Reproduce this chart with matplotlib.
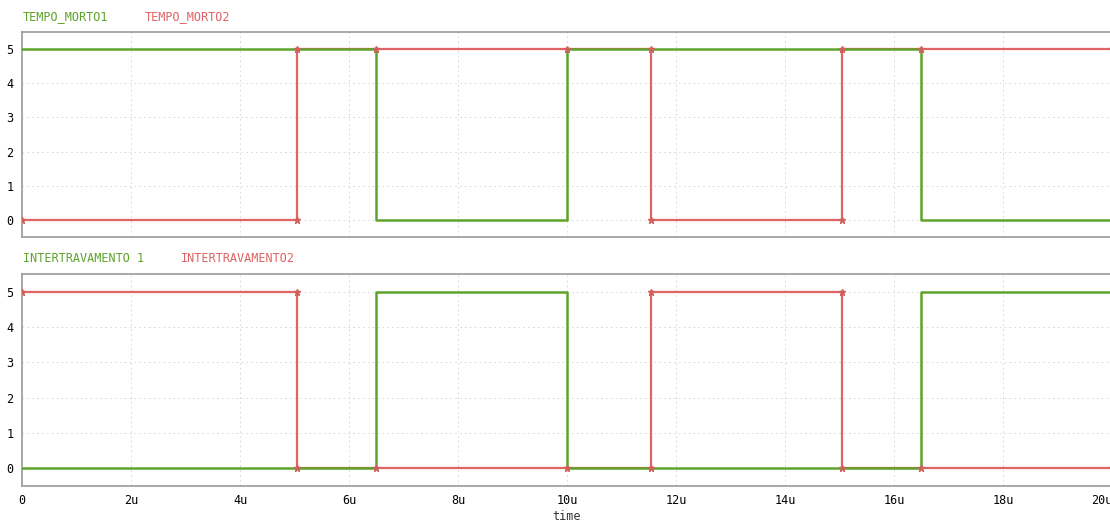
import numpy as np
import matplotlib
matplotlib.use("Agg")
import matplotlib.pyplot as plt

# time in microseconds
green_t = [0, 6.5, 6.5, 10, 10, 16.5, 16.5, 20]
tempo_morto1 = [5, 5, 0, 0, 5, 5, 0, 0]
intertravamento1 = [0, 0, 5, 5, 0, 0, 5, 5]

red_t = [0, 5.05, 5.05, 6.5, 10, 11.55, 11.55, 15.05, 15.05, 16.5, 20]
tempo_morto2 = [0, 0, 5, 5, 5, 5, 0, 0, 5, 5, 5]
intertravamento2 = [5, 5, 0, 0, 0, 0, 5, 5, 0, 0, 0]

x_ticks = [0, 2, 4, 6, 8, 10, 12, 14, 16, 18, 20]
x_labels = ["0"] + [f"{t}u" for t in x_ticks[1:]]
y_ticks = [0, 1, 2, 3, 4, 5]

GREEN = "#5ea32c"
RED = "#e06464"
MARK = "#d0605a"
mono = "DejaVu Sans Mono"

fig = plt.figure(figsize=(11.1, 5.24), dpi=100)
W, H = 1110, 524
ax1 = fig.add_axes([22 / W, 1 - 237 / H, 1090 / W, 205 / H])
ax2 = fig.add_axes([22 / W, 1 - 486 / H, 1090 / W, 212 / H])


def style(ax, show_x):
    ax.set_xlim(0, 20)
    ax.set_ylim(-0.5, 5.5)
    ax.set_xticks(x_ticks)
    ax.set_yticks(y_ticks)
    ax.grid(True, color="#dddddd", linestyle=(0, (2, 3)), linewidth=0.7)
    ax.set_axisbelow(True)
    for s in ["left", "bottom", "top"]:
        ax.spines[s].set_color("#999999")
        ax.spines[s].set_linewidth(1.2)
    ax.spines["right"].set_visible(False)
    ax.tick_params(length=0, labelsize=8.5, pad=6)
    for lab in ax.get_yticklabels():
        lab.set_fontfamily(mono)
    if show_x:
        ax.set_xticklabels(x_labels, fontfamily=mono)
        # last label pushed inside the figure like the original
        ax.get_xticklabels()[-1].set_horizontalalignment("right")
    else:
        ax.set_xticklabels([])


def draw(ax, gv, rv):
    ax.plot(red_t, rv, color=RED, lw=1.6, zorder=2)
    ax.plot(green_t, gv, color=GREEN, lw=1.8, zorder=3)
    ax.plot(red_t, rv, ls="none", marker="*", ms=5, color=MARK, zorder=4)


draw(ax1, tempo_morto1, tempo_morto2)
draw(ax2, intertravamento1, intertravamento2)
style(ax1, False)
style(ax2, True)

fig.text(23 / W, 1 - 17 / H, "TEMPO_MORTO1", color=GREEN, fontsize=8.5,
         fontfamily=mono, va="center")
fig.text(145 / W, 1 - 17 / H, "TEMPO_MORTO2", color=RED, fontsize=8.5,
         fontfamily=mono, va="center")
fig.text(23 / W, 1 - 259 / H, "INTERTRAVAMENTO 1", color=GREEN, fontsize=8.5,
         fontfamily=mono, va="center")
fig.text(181 / W, 1 - 259 / H, "INTERTRAVAMENTO2", color=RED, fontsize=8.5,
         fontfamily=mono, va="center")
fig.text(566 / W, 1 - 517 / H, "time", color="#333333", fontsize=8.5,
         fontfamily=mono, ha="center", va="center")

fig.savefig("out.png", dpi=100)
